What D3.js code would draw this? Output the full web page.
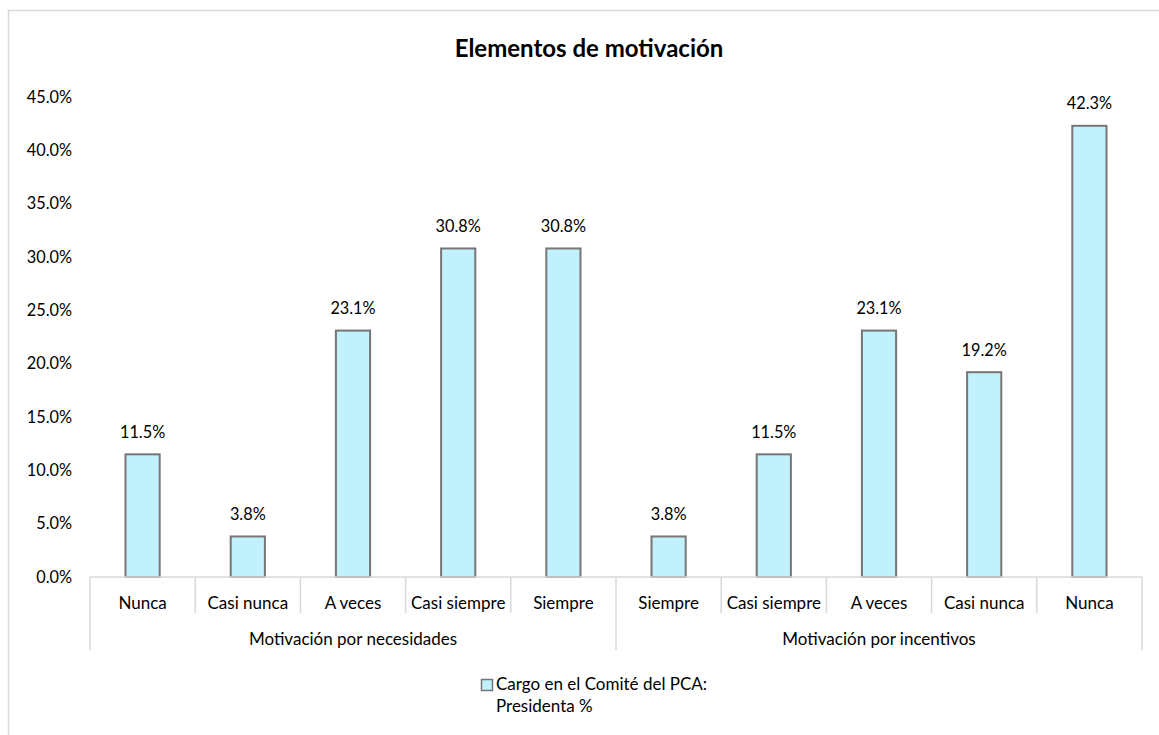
<!DOCTYPE html>
<html>
<head>
<meta charset="utf-8">
<script src="https://cdn.jsdelivr.net/npm/d3@7"></script>
<style>
  html, body { margin: 0; padding: 0; background: #fff; }
  svg { display: block; }
  text { font-family: Lato, "Open Sans", sans-serif; fill: #000; }
</style>
</head>
<body>
<svg id="chart" width="1159" height="735"></svg>
<script>
// Category labels along the x axis, in drawing order
const categories = ["Nunca", "Casi nunca", "A veces", "Casi siempre", "Siempre",
                    "Siempre", "Casi siempre", "A veces", "Casi nunca", "Nunca"];
// Outer grouping of the categories
const groups = ["Motivación por necesidades", "Motivación por incentivos"];
const groupSizes = [5, 5];
// Percent of respondents (Presidenta %)
const values = [11.5, 3.8, 23.1, 30.8, 30.8, 3.8, 11.5, 23.1, 19.2, 42.3];
// Y-axis ticks
const yTicks = [0, 5, 10, 15, 20, 25, 30, 35, 40, 45];
const title = "Elementos de motivación";
const legendLines = ["Cargo en el Comité del PCA:", "Presidenta %"];

const svg = d3.select("#chart");
const gridColor = "#d9d9d9";
const barFill = "#c1f1fc";
const barStroke = "#767676";
const textSize = 17;
const numSize = 16.3;

// chart frame
svg.append("rect")
  .attr("x", 8.5).attr("y", 10.5)
  .attr("width", 1170).attr("height", 740)
  .attr("fill", "none").attr("stroke", gridColor).attr("stroke-width", 1.5);

const plotLeft = 90, plotRight = 1142, plotTop = 97, plotBottom = 577;

const y = d3.scaleLinear().domain([0, 45]).range([plotBottom, plotTop]);
const x = d3.scaleBand().domain(d3.range(categories.length)).range([plotLeft, plotRight]).padding(0);
const bw = x.bandwidth();
const barW = bw * 0.325;

// title
svg.append("text")
  .attr("x", 589).attr("y", 57)
  .attr("text-anchor", "middle")
  .attr("font-size", 24).attr("font-weight", "bold")
  .text(title);

// y axis labels
const yAxis = d3.axisLeft(y).tickValues(yTicks).tickSize(0).tickPadding(0)
  .tickFormat(d => d.toFixed(1) + "%");
const yg = svg.append("g").attr("transform", `translate(72,0)`).call(yAxis);
yg.select(".domain").remove();
yg.selectAll("text").attr("font-size", numSize).attr("font-family", "Lato, sans-serif").attr("fill", "#000");

// bars
svg.append("g").selectAll("rect")
  .data(values)
  .join("rect")
  .attr("x", (d, i) => x(i) + (bw - barW) / 2)
  .attr("y", d => y(d))
  .attr("width", barW)
  .attr("height", d => y(0) - y(d))
  .attr("fill", barFill)
  .attr("stroke", barStroke)
  .attr("stroke-width", 2);

// value labels
svg.append("g").selectAll("text")
  .data(values)
  .join("text")
  .attr("x", (d, i) => x(i) + bw / 2)
  .attr("y", d => y(d) - 16.5)
  .attr("text-anchor", "middle")
  .attr("font-size", numSize)
  .text(d => d.toFixed(1) + "%");

// x axis line and category dividers
const ax = svg.append("g").attr("stroke", gridColor).attr("stroke-width", 1.5);
ax.append("line").attr("x1", plotLeft).attr("x2", plotRight).attr("y1", plotBottom).attr("y2", plotBottom);

let start = 0;
const groupEdges = [0];
groupSizes.forEach(s => { start += s; groupEdges.push(start); });

d3.range(categories.length + 1).forEach(i => {
  const xi = i < categories.length ? x(i) : plotRight;
  const isGroupEdge = groupEdges.includes(i);
  ax.append("line")
    .attr("x1", xi).attr("x2", xi)
    .attr("y1", plotBottom).attr("y2", isGroupEdge ? 650 : 613);
});

// category labels
svg.append("g").selectAll("text")
  .data(categories)
  .join("text")
  .attr("x", (d, i) => x(i) + bw / 2)
  .attr("y", 609)
  .attr("text-anchor", "middle")
  .attr("font-size", textSize)
  .text(d => d);

// group labels
svg.append("g").selectAll("text")
  .data(groups)
  .join("text")
  .attr("x", (d, i) => {
    const a = x(groupEdges[i]);
    const bIdx = groupEdges[i + 1];
    const b = bIdx < categories.length ? x(bIdx) : plotRight;
    return (a + b) / 2;
  })
  .attr("y", 645)
  .attr("text-anchor", "middle")
  .attr("font-size", textSize)
  .text(d => d);

// legend
const lg = svg.append("g");
lg.append("rect")
  .attr("x", 481.5).attr("y", 679.5).attr("width", 11).attr("height", 11)
  .attr("fill", barFill).attr("stroke", barStroke).attr("stroke-width", 1.5);
lg.selectAll("text")
  .data(legendLines)
  .join("text")
  .attr("x", 496)
  .attr("y", (d, i) => 690 + i * 21.5)
  .attr("font-size", textSize)
  .text(d => d);
</script>
</body>
</html>
